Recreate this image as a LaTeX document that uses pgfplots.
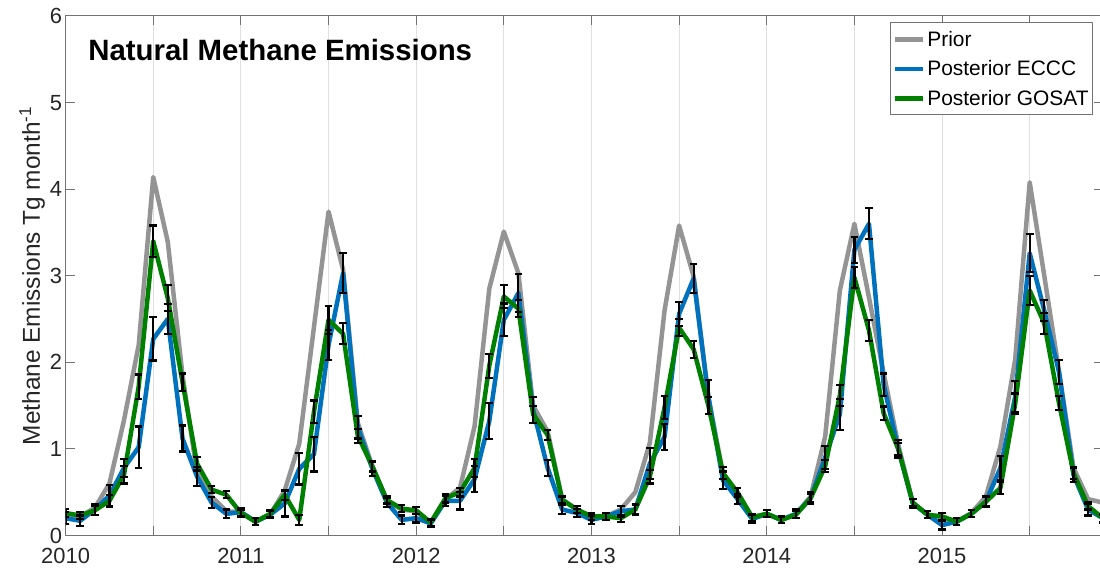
\documentclass[border=0pt]{standalone}
\usepackage{fontspec}
\setmainfont{Liberation Sans}
\usepackage{pgfplots}
\usepackage{pgfplotstable}
\pgfplotsset{compat=1.18}
\definecolor{cprior}{RGB}{148,148,148}
\definecolor{ceccc}{RGB}{0,114,189}
\definecolor{cgosat}{RGB}{0,128,0}
\definecolor{ctext}{RGB}{38,38,38}

\pgfplotstableread{
x        prior eccc ecccE gosat gosatE
2010.000 0.25 0.20 0.07 0.26 0.05
2010.083 0.22 0.17 0.06 0.23 0.04
2010.167 0.32 0.30 0.06 0.29 0.05
2010.250 0.60 0.46 0.12 0.40 0.07
2010.333 1.33 0.78 0.10 0.70 0.10
2010.417 2.20 1.02 0.24 1.72 0.14
2010.500 4.14 2.27 0.25 3.40 0.18
2010.583 3.39 2.50 0.17 2.74 0.15
2010.667 1.85 1.12 0.15 1.77 0.10
2010.750 0.72 0.68 0.11 0.83 0.08
2010.833 0.45 0.38 0.06 0.53 0.04
2010.917 0.28 0.25 0.05 0.47 0.04
2011.000 0.27 0.27 0.05 0.26 0.04
2011.083 0.16 0.16 0.04 0.16 0.04
2011.167 0.24 0.24 0.04 0.25 0.04
2011.250 0.52 0.37 0.15 0.47 0.06
2011.333 1.06 0.77 0.18 0.18 0.06
2011.417 2.41 0.94 0.20 1.43 0.13
2011.500 3.74 2.20 0.17 2.49 0.16
2011.583 3.07 3.03 0.23 2.33 0.12
2011.667 1.30 1.25 0.13 1.15 0.08
2011.750 0.80 0.77 0.08 0.80 0.06
2011.833 0.40 0.38 0.05 0.41 0.04
2011.917 0.30 0.18 0.05 0.31 0.04
2012.000 0.28 0.20 0.05 0.29 0.04
2012.083 0.14 0.14 0.04 0.15 0.04
2012.167 0.42 0.40 0.06 0.43 0.05
2012.250 0.55 0.40 0.10 0.50 0.05
2012.333 1.26 0.65 0.15 0.78 0.10
2012.417 2.85 1.32 0.21 1.96 0.14
2012.500 3.51 2.49 0.19 2.76 0.13
2012.583 3.03 2.80 0.22 2.62 0.10
2012.667 1.50 1.45 0.15 1.40 0.10
2012.750 1.20 0.78 0.09 1.16 0.06
2012.833 0.42 0.30 0.05 0.41 0.04
2012.917 0.30 0.26 0.05 0.30 0.04
2013.000 0.22 0.18 0.05 0.22 0.04
2013.083 0.22 0.22 0.04 0.22 0.04
2013.167 0.30 0.28 0.06 0.20 0.04
2013.250 0.50 0.30 0.06 0.30 0.05
2013.333 1.07 0.83 0.18 0.68 0.08
2013.417 2.60 1.14 0.15 1.48 0.13
2013.500 3.58 2.56 0.14 2.40 0.10
2013.583 2.99 2.97 0.17 2.15 0.10
2013.667 1.60 1.60 0.20 1.50 0.10
2013.750 0.72 0.64 0.10 0.72 0.07
2013.833 0.48 0.42 0.06 0.50 0.05
2013.917 0.21 0.19 0.05 0.21 0.04
2014.000 0.25 0.25 0.04 0.25 0.04
2014.083 0.18 0.18 0.04 0.18 0.04
2014.167 0.25 0.25 0.05 0.24 0.04
2014.250 0.45 0.43 0.07 0.43 0.05
2014.333 1.14 0.90 0.13 0.80 0.07
2014.417 2.83 1.40 0.18 1.62 0.12
2014.500 3.60 3.30 0.15 2.98 0.12
2014.583 2.75 3.60 0.18 2.37 0.12
2014.667 1.87 1.74 0.13 1.41 0.08
2014.750 1.05 1.00 0.10 1.00 0.07
2014.833 0.38 0.37 0.05 0.38 0.04
2014.917 0.24 0.24 0.04 0.24 0.04
2015.000 0.20 0.12 0.05 0.22 0.04
2015.083 0.16 0.16 0.04 0.16 0.04
2015.167 0.26 0.25 0.04 0.25 0.04
2015.250 0.45 0.39 0.06 0.39 0.05
2015.333 1.03 0.78 0.14 0.55 0.07
2015.417 2.03 1.60 0.18 1.52 0.12
2015.500 4.08 3.26 0.22 2.83 0.17
2015.583 3.00 2.60 0.12 2.45 0.12
2015.667 1.90 1.89 0.14 1.53 0.08
2015.750 0.78 0.70 0.08 0.72 0.07
2015.833 0.42 0.30 0.07 0.34 0.04
2015.917 0.38 0.20 0.05 0.20 0.04
}\data

\begin{document}
\begin{tikzpicture}
\begin{axis}[
  scale only axis, width=1037.2bp, height=519.5bp,
  xmin=2010, xmax=2015.917, ymin=0, ymax=6,
  xtick={2010,2010.5,2011,2011.5,2012,2012.5,2013,2013.5,2014,2014.5,2015,2015.5},
  xticklabels={2010,,2011,,2012,,2013,,2014,,2015,},
  ytick={0,1,2,3,4,5,6},
  tick align=inside, major tick length=9bp,
  xmajorgrids, major grid style={gray!25, line width=0.8bp},
  axis line style={black!55, line width=1bp},
  every tick/.style={black!55, line width=1bp},
  tick label style={font=\fontsize{22}{26}\selectfont, text=ctext},
  xticklabel style={yshift=-9bp},
  /pgf/number format/assume math mode=true,
  ylabel={Methane Emissions Tg month\textsuperscript{-1}},
  every axis y label/.style={at={(axis description cs:0,0.5)}, rotate=90, anchor=base, yshift=25.6bp, font=\fontsize{24.5}{28}\selectfont, text=ctext},
  legend cell align=left,
  legend style={at={(rel axis cs:0.9906,0.9875)}, anchor=north east, draw=black!55, line width=1bp, fill=white,
    font=\fontsize{21}{25}\selectfont, inner xsep=2bp, inner ysep=1.5bp, row sep=0bp,
    nodes={inner xsep=2bp, inner ysep=6.5bp}},
  legend image code/.code={\draw[#1, line width=4.5bp] (0bp,0bp) -- (28bp,0bp);},
  line join=round,
]
\addplot[cprior, line width=4.5bp] table[x=x,y=prior]{\data};
\addplot[ceccc, line width=4.5bp] table[x=x,y=eccc]{\data};
\addplot[cgosat, line width=4.5bp] table[x=x,y=gosat]{\data};
\legend{Prior, Posterior ECCC, Posterior GOSAT}
\addplot[forget plot, draw=none, mark=none,
  error bars/.cd, y dir=both, y explicit,
  error bar style={draw=black, line width=2.2bp},
  error mark options={draw=black, rotate=90, mark size=3.8bp, line width=2.2bp}]
  table[x=x, y=eccc, y error=ecccE]{\data};
\addplot[forget plot, draw=none, mark=none,
  error bars/.cd, y dir=both, y explicit,
  error bar style={draw=black, line width=2.2bp},
  error mark options={draw=black, rotate=90, mark size=3.8bp, line width=2.2bp}]
  table[x=x, y=gosat, y error=gosatE]{\data};
\node[anchor=west, font=\fontsize{29.5}{34}\selectfont\bfseries, text=black] at (rel axis cs:0.0185,0.9346) {Natural Methane Emissions};
\end{axis}
\pgfresetboundingbox
\useasboundingbox ([shift={(-65.6bp,-35.5bp)}]current axis.south west) rectangle ([shift={(-2.8bp,16bp)}]current axis.north east);
\end{tikzpicture}
\end{document}
